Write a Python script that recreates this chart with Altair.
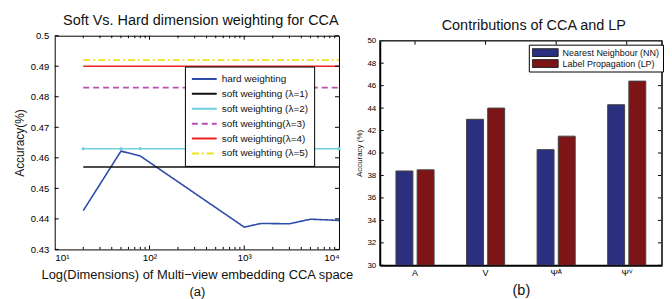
import altair as alt
import pandas as pd

# ---------------- data: panel (a) ----------------
dims = [20, 50, 80, 500, 1000, 1500, 3000, 5000, 10000]
hard_acc = [0.4427, 0.4622, 0.4606, 0.4437, 0.4373, 0.4385, 0.4384, 0.4399, 0.4395]
soft_labels = ["soft weighting (λ=1)", "soft weighting (λ=2)", "soft weighting(λ=3)",
               "soft weighting(λ=4)", "soft weighting (λ=5)"]
soft_acc = [0.457, 0.463, 0.483, 0.490, 0.492]
series_names = ["hard weighting"] + soft_labels
series_colors = ["#2E4DA8", "#111111", "#6FCFDF", "#B94FB0", "#EE2020", "#F2E21A"]
series_dash = [[1, 0], [1, 0], [1, 0], [6, 4], [1, 0], [7, 3, 2, 3]]
y_ticks_a = [0.43, 0.44, 0.45, 0.46, 0.47, 0.48, 0.49, 0.5]
x_ticks_a = [10, 100, 1000, 10000]
x_minor_a = [m * d for d in [10, 100, 1000] for m in range(2, 10)]

# ---------------- data: panel (b) ----------------
categories = ["A", "V", "Ψᴬ", "Ψⱽ"]
methods = ["Nearest Neighbour (NN)", "Label Propagation (LP)"]
nn_acc = [38.4, 43.0, 40.3, 44.3]
lp_acc = [38.5, 44.0, 41.5, 46.4]
method_colors = ["#2B2F80", "#7D1416"]
y_ticks_b = [30, 32, 34, 36, 38, 40, 42, 44, 46, 48, 50]

FONT = "Liberation Sans"
WA, HA = 286, 215
WB, HB = 284, 231
TOPB = 5  # right plot starts 5px lower than the left one

rows = []
for d, v in zip(dims, hard_acc):
    rows.append({"series": series_names[0], "dim": d, "acc": v})
for name, v in zip(soft_labels, soft_acc):
    for d in dims:
        rows.append({"series": name, "dim": d, "acc": v})
line_df = pd.DataFrame(rows)

xa = alt.X("dim:Q", scale=alt.Scale(type="log", domain=[10, 10000]),
           axis=alt.Axis(values=x_ticks_a, tickCount=50, ticks=False, grid=False, labelPadding=3,
                         labelFontSize=10, labelFont=FONT, domain=False, labelOverlap=False,
                         labelExpr="datum.value == 10 ? '10¹' : datum.value == 100 ? '10²' : datum.value == 1000 ? '10³' : '10⁴'",
                         title=["Log(Dimensions) of Multi−view embedding CCA space", "(a)"],
                         titleFont=FONT, titleFontSize=13, titleFontWeight="normal",
                         titleLineHeight=17, titlePadding=6, titleColor="#111"))
ya = alt.Y("acc:Q", scale=alt.Scale(domain=[0.43, 0.5]),
           axis=alt.Axis(values=y_ticks_a, tickCount=50, ticks=False, grid=False, labelPadding=6,
                         labelFontSize=9.5, labelFont=FONT, format="~g", domain=False,
                         labelOverlap=False,
                         title="Accuracy(%)", titleFont=FONT, titleFontSize=12,
                         titleFontWeight="normal", titlePadding=4, titleColor="#111"))

leg_a = alt.Legend(title=None, orient="none", legendX=131, legendY=31,
                   fillColor="white", strokeColor="black", padding=6,
                   labelFont=FONT, labelFontSize=10, labelColor="#111",
                   symbolType="stroke", symbolSize=625, symbolStrokeWidth=2,
                   labelOffset=4, clipHeight=13, rowPadding=2, labelLimit=200)

lines = alt.Chart(line_df).mark_line(strokeWidth=1.6, clip=True).encode(
    x=xa, y=ya,
    color=alt.Color("series:N", sort=series_names,
                    scale=alt.Scale(domain=series_names, range=series_colors), legend=leg_a),
    strokeDash=alt.StrokeDash("series:N", sort=series_names,
                              scale=alt.Scale(domain=series_names, range=series_dash), legend=leg_a),
)

cyan_df = pd.DataFrame({"dim": dims, "acc": [soft_acc[1]] * len(dims)})
cyan_pts = alt.Chart(cyan_df).mark_point(filled=True, size=10, color=series_colors[2], opacity=1).encode(
    x="dim:Q", y="acc:Q")

ytick_df = pd.DataFrame({"acc": y_ticks_a})
ytl = alt.Chart(ytick_df).mark_rule(color="black").encode(
    y="acc:Q", x=alt.value(0), x2=alt.value(4))
ytr = alt.Chart(ytick_df).mark_rule(color="black").encode(
    y="acc:Q", x=alt.value(WA - 4), x2=alt.value(WA))
xtick_df = pd.DataFrame({"dim": x_ticks_a[1:-1]})
xtb = alt.Chart(xtick_df).mark_rule(color="black").encode(
    x="dim:Q", y=alt.value(HA - 4), y2=alt.value(HA))
xtt = alt.Chart(xtick_df).mark_rule(color="black").encode(
    x="dim:Q", y=alt.value(0), y2=alt.value(4))
xminor_df = pd.DataFrame({"dim": x_minor_a})
xmb = alt.Chart(xminor_df).mark_rule(color="black").encode(
    x="dim:Q", y=alt.value(HA - 2.5), y2=alt.value(HA))
xmt = alt.Chart(xminor_df).mark_rule(color="black").encode(
    x="dim:Q", y=alt.value(0), y2=alt.value(2.5))

left = alt.layer(lines, cyan_pts, ytl, ytr, xtb, xtt, xmb, xmt).properties(
    width=WA, height=HA,
    view=alt.ViewBackground(stroke="black", strokeWidth=1),
    title=alt.TitleParams("Soft Vs. Hard dimension weighting for CCA", font=FONT,
                          fontSize=14.5, fontWeight="normal", color="#111", offset=2, dx=4),
)

# ---------------- panel (b) ----------------
brows = []
for c, a, b in zip(categories, nn_acc, lp_acc):
    brows.append({"cat": c, "method": methods[0], "acc": a})
    brows.append({"cat": c, "method": methods[1], "acc": b})
bar_df = pd.DataFrame(brows)

xb = alt.X("cat:N", sort=categories,
           scale=alt.Scale(domain=categories, paddingInner=0.46, paddingOuter=0.23),
           axis=alt.Axis(ticks=False, labelAngle=0, labelPadding=3, labelFont=FONT,
                         labelFontSize=9, domain=True, domainColor="black", domainWidth=2,
                         title="(b)", titleFont=FONT, titleFontSize=14.5,
                         titleFontWeight="normal", titlePadding=6, titleColor="#111"))
yb = alt.Y("acc:Q", scale=alt.Scale(domain=[30, 50], zero=False, range=[HB, TOPB]),
           axis=alt.Axis(values=y_ticks_b, tickCount=50, ticks=False, grid=False, labelPadding=4,
                         labelFont=FONT, labelFontSize=8, domain=True, domainColor="black",
                         labelOverlap=False, format="d",
                         domainWidth=2, title="Accuracy (%)", titleFont=FONT, titleFontSize=8,
                         titleFontWeight="normal", titlePadding=3, titleColor="#111"))

leg_b = alt.Legend(title=None, orient="none", legendX=150, legendY=TOPB + 4,
                   fillColor="white", strokeColor="black", padding=3,
                   labelFont=FONT, labelFontSize=9, labelColor="#111",
                   symbolType="M-1,-0.3H1V0.3H-1Z", symbolSize=676,
                   symbolStrokeColor="#222", symbolStrokeWidth=1, symbolOpacity=1,
                   labelOffset=4, clipHeight=10, rowPadding=1, labelLimit=200)

bars = alt.Chart(bar_df).mark_bar(stroke="#444", strokeWidth=1, clip=True).encode(
    x=xb,
    xOffset=alt.XOffset("method:N", sort=methods,
                        scale=alt.Scale(domain=methods, paddingInner=0.2, paddingOuter=0)),
    y=yb,
    y2=alt.datum(30),
    color=alt.Color("method:N", sort=methods,
                    scale=alt.Scale(domain=methods, range=method_colors), legend=leg_b),
)

cat_df = pd.DataFrame({"cat": categories})
bt_top = alt.Chart(cat_df).mark_rule(color="black").encode(
    x=alt.X("cat:N", sort=categories), y=alt.value(TOPB), y2=alt.value(TOPB + 4))
ybtick_df = pd.DataFrame({"acc": y_ticks_b})
byl = alt.Chart(ybtick_df).mark_rule(color="black").encode(
    y="acc:Q", x=alt.value(0), x2=alt.value(4))
byr = alt.Chart(ybtick_df).mark_rule(color="black").encode(
    y="acc:Q", x=alt.value(WB - 4), x2=alt.value(WB))
box_top = alt.Chart(cat_df).mark_rule(color="#333", strokeWidth=1).encode(
    y=alt.datum(50), x=alt.value(0), x2=alt.value(WB))
box_right = alt.Chart(cat_df).mark_rule(color="#333", strokeWidth=1).encode(
    x=alt.value(WB), y=alt.datum(50), y2=alt.datum(30))

right = alt.layer(bars, bt_top, byl, byr, box_top, box_right).properties(
    width=WB, height=HB,
    view=alt.ViewBackground(stroke=None),
    title=alt.TitleParams("Contributions of CCA and LP", font=FONT, fontSize=14.5,
                          fontWeight="normal", color="#111", offset=2, dx=13),
)

chart = alt.hconcat(left, right, spacing=41, bounds="flush").resolve_scale(
    color="independent", strokeDash="independent", x="independent", y="independent"
).resolve_legend(color="independent", strokeDash="independent").properties(
    padding={"left": 5, "top": 4, "right": 0, "bottom": 0}
).configure(background="white")

chart.save("out.html", embed_options={"renderer": "svg", "actions": False})
